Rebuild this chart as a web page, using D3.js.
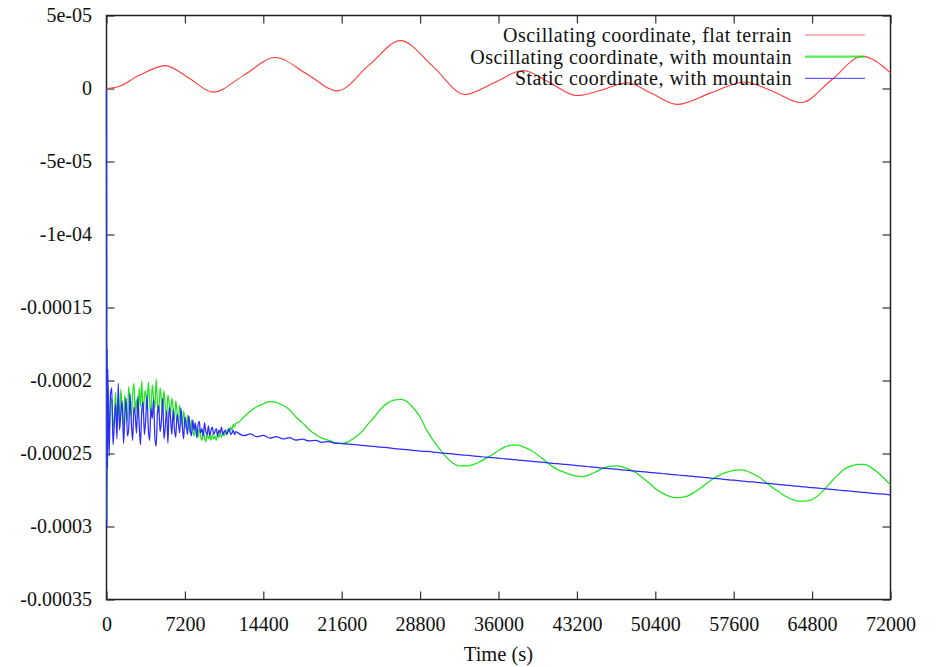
<!DOCTYPE html>
<html>
<head>
<meta charset="utf-8">
<script src="https://cdn.jsdelivr.net/npm/d3@7"></script>
<style>
  body { margin: 0; background: #fff; }
  svg { display: block; }
  text { font-family: "Liberation Serif", "Times New Roman", serif; fill: #111; }
</style>
</head>
<body>
<svg id="chart" width="939" height="667"></svg>
<script>
// ---- data (series values are stored in units of 1e-4) ----
const UNIT = 1e-4;

const xTickValues = [0, 7200, 14400, 21600, 28800, 36000, 43200, 50400, 57600, 64800, 72000];
const yTickValues = [5e-5, 0, -5e-5, -1e-4, -1.5e-4, -2e-4, -2.5e-4, -3e-4, -3.5e-4];
const yTickLabels = ["5e-05", "0", "-5e-05", "-1e-04", "-0.00015", "-0.0002", "-0.00025", "-0.0003", "-0.00035"];
const seriesNames = [
  "Oscillating coordinate, flat terrain",
  "Oscillating coordinate, with mountain",
  "Static coordinate, with mountain"
];
const seriesColors = ["#ff3b3b", "#1fe61f", "#2b2bff"];

// Oscillating coordinate, flat terrain: [time (s), value]
const flatTerrain = [
  [0, 0], [1000, 0.01], [3000, 0.09], [5400, 0.157], [7600, 0.07], [9800, -0.025],
  [12600, 0.09], [15500, 0.212], [18400, 0.10], [21200, -0.016], [24100, 0.16],
  [27000, 0.328], [30000, 0.15], [32900, -0.041], [35600, 0.04], [38250, 0.123],
  [40700, 0.04], [43200, -0.048], [45500, -0.01], [47800, 0.039], [50100, -0.035],
  [52400, -0.109], [55500, -0.03], [58600, 0.045], [61200, -0.02], [63800, -0.096],
  [66600, 0.06], [69400, 0.22], [72000, 0.107]
];

// Initial transient of the mountain runs: [time (s), value]
const mountainOscStart = [[0, 0], [30, -2.95], [60, -1.85], [90, -2.55]];
const mountainStaticStart = [[0, 0], [30, -3.0], [60, -1.78], [90, -2.6]];

// Early noisy phase, one sample every 120 s from t = 120 s to t = 11880 s
const earlyStep = 120;
const mountainOscEarly = [
  -2.05, -2.36, -2.18, -2.12, -2.32, -2.24, -2.08, -2.30, -2.15, -2.27,
  -2.06, -2.22, -2.31, -2.10, -2.19, -2.28, -2.04, -2.16, -2.25, -2.09,
  -2.02, -2.21, -2.13, -2.26, -2.05, -2.18, -2.00, -2.23, -2.11, -2.07,
  -2.20, -2.01, -2.14, -2.24, -2.03, -2.12, -2.19, -1.99, -2.16, -2.22,
  -2.05, -2.13, -2.21, -2.07, -2.18, -2.25, -2.10, -2.16, -2.23, -2.12,
  -2.19, -2.27, -2.14, -2.22, -2.29, -2.17, -2.25, -2.31, -2.21, -2.28,
  -2.33, -2.24, -2.30, -2.36, -2.27, -2.34, -2.38, -2.30, -2.35, -2.39,
  -2.33, -2.38, -2.41, -2.35, -2.39, -2.42, -2.36, -2.40, -2.38, -2.41,
  -2.37, -2.40, -2.38, -2.41, -2.37, -2.39, -2.36, -2.39, -2.36, -2.38,
  -2.34, -2.37, -2.33, -2.35, -2.32, -2.34, -2.30, -2.32, -2.29
];
const mountainStaticEarly = [
  -1.92, -2.52, -2.10, -2.05, -2.44, -2.30, -2.16, -2.40, -2.02, -2.34,
  -2.22, -2.14, -2.43, -2.26, -2.12, -2.38, -2.33, -2.09, -2.29, -2.41,
  -2.18, -2.24, -2.36, -2.11, -2.30, -2.44, -2.20, -2.15, -2.37, -2.27,
  -2.10, -2.33, -2.41, -2.19, -2.26, -2.13, -2.39, -2.45, -2.22, -2.17,
  -2.35, -2.28, -2.12, -2.40, -2.31, -2.21, -2.43, -2.18, -2.26, -2.37,
  -2.20, -2.33, -2.39, -2.23, -2.29, -2.36, -2.19, -2.31, -2.40, -2.25,
  -2.30, -2.37, -2.24, -2.33, -2.38, -2.27, -2.34, -2.29, -2.39, -2.31,
  -2.28, -2.36, -2.33, -2.38, -2.29, -2.35, -2.37, -2.31, -2.38, -2.34,
  -2.32, -2.37, -2.35, -2.33, -2.38, -2.34, -2.36, -2.32, -2.37, -2.35,
  -2.34, -2.37, -2.35, -2.33, -2.37, -2.36, -2.34, -2.37, -2.35
];

// Later phase, one sample every 600 s from t = 12000 s to t = 72000 s
const lateStart = 12000;
const lateStep = 600;
const mountainOscLate = [
  -2.29, -2.25, -2.21, -2.18, -2.16, -2.145, -2.15, -2.17, -2.20, -2.25,
  -2.29, -2.335, -2.37, -2.395, -2.41, -2.425, -2.43, -2.42, -2.39, -2.355,
  -2.30, -2.25, -2.195, -2.155, -2.135, -2.13, -2.145, -2.19, -2.25, -2.34,
  -2.41, -2.47, -2.525, -2.565, -2.585, -2.585, -2.578, -2.56, -2.535, -2.51,
  -2.48, -2.455, -2.443, -2.442, -2.458, -2.48, -2.51, -2.545, -2.58, -2.61,
  -2.628, -2.645, -2.655, -2.658, -2.645, -2.624, -2.60, -2.588, -2.585, -2.592,
  -2.608, -2.63, -2.665, -2.70, -2.74, -2.77, -2.79, -2.803, -2.80, -2.79,
  -2.765, -2.735, -2.70, -2.67, -2.645, -2.628, -2.615, -2.612, -2.62, -2.64,
  -2.665, -2.70, -2.735, -2.765, -2.795, -2.815, -2.827, -2.826, -2.815, -2.785,
  -2.74, -2.69, -2.645, -2.605, -2.585, -2.575, -2.574, -2.595, -2.628, -2.67,
  -2.715
];
const mountainStaticLate = [
  -2.355, -2.378, -2.366, -2.385, -2.376, -2.395, -2.384, -2.400, -2.392, -2.409,
  -2.402, -2.414, -2.410, -2.423, -2.418, -2.430, -2.432, -2.436, -2.440, -2.444,
  -2.448, -2.452, -2.457, -2.460, -2.466, -2.470, -2.473, -2.478, -2.483, -2.486,
  -2.490, -2.496, -2.499, -2.503, -2.508, -2.512, -2.516, -2.520, -2.525, -2.528,
  -2.532, -2.537, -2.540, -2.545, -2.549, -2.553, -2.558, -2.561, -2.566, -2.570,
  -2.574, -2.578, -2.583, -2.586, -2.592, -2.595, -2.600, -2.604, -2.607, -2.612,
  -2.616, -2.621, -2.624, -2.629, -2.632, -2.637, -2.641, -2.645, -2.650, -2.653,
  -2.658, -2.662, -2.666, -2.671, -2.674, -2.679, -2.683, -2.687, -2.692, -2.695,
  -2.700, -2.704, -2.708, -2.713, -2.716, -2.721, -2.725, -2.729, -2.734, -2.737,
  -2.742, -2.746, -2.750, -2.755, -2.758, -2.763, -2.767, -2.771, -2.776, -2.779,
  -2.785
];

// ---- assemble [time, value] series ----
function assemble(start, early, late) {
  const pts = start.slice();
  early.forEach((v, i) => pts.push([earlyStep * (i + 1), v]));
  late.forEach((v, k) => pts.push([lateStart + lateStep * k, v]));
  return pts;
}
const series = [
  flatTerrain,
  assemble(mountainOscStart, mountainOscEarly, mountainOscLate),
  assemble(mountainStaticStart, mountainStaticEarly, mountainStaticLate)
];

// ---- layout ----
const plot = { left: 106.5, right: 890.5, top: 15.5, bottom: 599.5 };
const tickLen = 8;
const serif = '"Liberation Serif", "Times New Roman", serif';

const svg = d3.select("#chart");
const x = d3.scaleLinear().domain([0, 72000]).range([plot.left, plot.right]);
const y = d3.scaleLinear().domain([-3.5e-4, 5e-5]).range([plot.bottom, plot.top]);

// axes (ticks point inwards, mirrored on top and right)
const fontSize = 20;
const gx = svg.append("g").attr("transform", `translate(0,${plot.bottom})`)
  .call(d3.axisBottom(x).tickValues(xTickValues).tickFormat(d3.format("d"))
    .tickSizeInner(-tickLen).tickSizeOuter(0).tickPadding(17));
const gxTop = svg.append("g").attr("transform", `translate(0,${plot.top})`)
  .call(d3.axisTop(x).tickValues(xTickValues).tickFormat("")
    .tickSizeInner(-tickLen).tickSizeOuter(0));
const gy = svg.append("g").attr("transform", `translate(${plot.left},0)`)
  .call(d3.axisLeft(y).tickValues(yTickValues).tickFormat((d, i) => yTickLabels[i])
    .tickSizeInner(-tickLen).tickSizeOuter(0).tickPadding(14.5));
const gyRight = svg.append("g").attr("transform", `translate(${plot.right},0)`)
  .call(d3.axisRight(y).tickValues(yTickValues).tickFormat("")
    .tickSizeInner(-tickLen).tickSizeOuter(0));

[gx, gxTop, gy, gyRight].forEach(g => {
  g.attr("font-family", null).attr("font-size", null);
  g.select(".domain").remove();
  g.selectAll(".tick line").attr("stroke", "#333").attr("stroke-width", 1.2);
  g.selectAll(".tick text")
    .style("font-family", serif)
    .style("font-size", fontSize + "px")
    .attr("fill", "#111");
});

// frame
svg.append("rect")
  .attr("x", plot.left).attr("y", plot.top)
  .attr("width", plot.right - plot.left).attr("height", plot.bottom - plot.top)
  .attr("fill", "none").attr("stroke", "#222").attr("stroke-width", 1.5);

// x axis title
svg.append("text")
  .attr("x", (plot.left + plot.right) / 2).attr("y", 661)
  .attr("text-anchor", "middle")
  .style("font-family", serif).style("font-size", "20.5px")
  .text("Time (s)");

// series lines
const line = d3.line()
  .x(d => x(d[0]))
  .y(d => y(d[1] * UNIT))
  .curve(d3.curveMonotoneX);

svg.append("g").selectAll("path")
  .data(series)
  .join("path")
  .attr("d", d => line(d))
  .attr("fill", "none")
  .attr("stroke", (d, i) => seriesColors[i])
  .attr("stroke-width", (d, i) => i === 0 ? 1.1 : 1.25)
  .attr("stroke-linejoin", "round");

// legend
const legend = svg.append("g");
const legendRows = [35, 56.7, 78.3];
seriesNames.forEach((name, i) => {
  legend.append("text")
    .attr("x", 792).attr("y", legendRows[i])
    .attr("dy", "0.35em")
    .attr("text-anchor", "end")
    .style("font-family", serif).style("font-size", "20px")
    .attr("letter-spacing", "0.5px")
    .text(name);
  legend.append("line")
    .attr("x1", 805).attr("x2", 865)
    .attr("y1", legendRows[i]).attr("y2", legendRows[i])
    .attr("stroke", seriesColors[i])
    .attr("stroke-opacity", 0.75)
    .attr("stroke-width", i === 1 ? 2.2 : 1.2);
});
</script>
</body>
</html>
